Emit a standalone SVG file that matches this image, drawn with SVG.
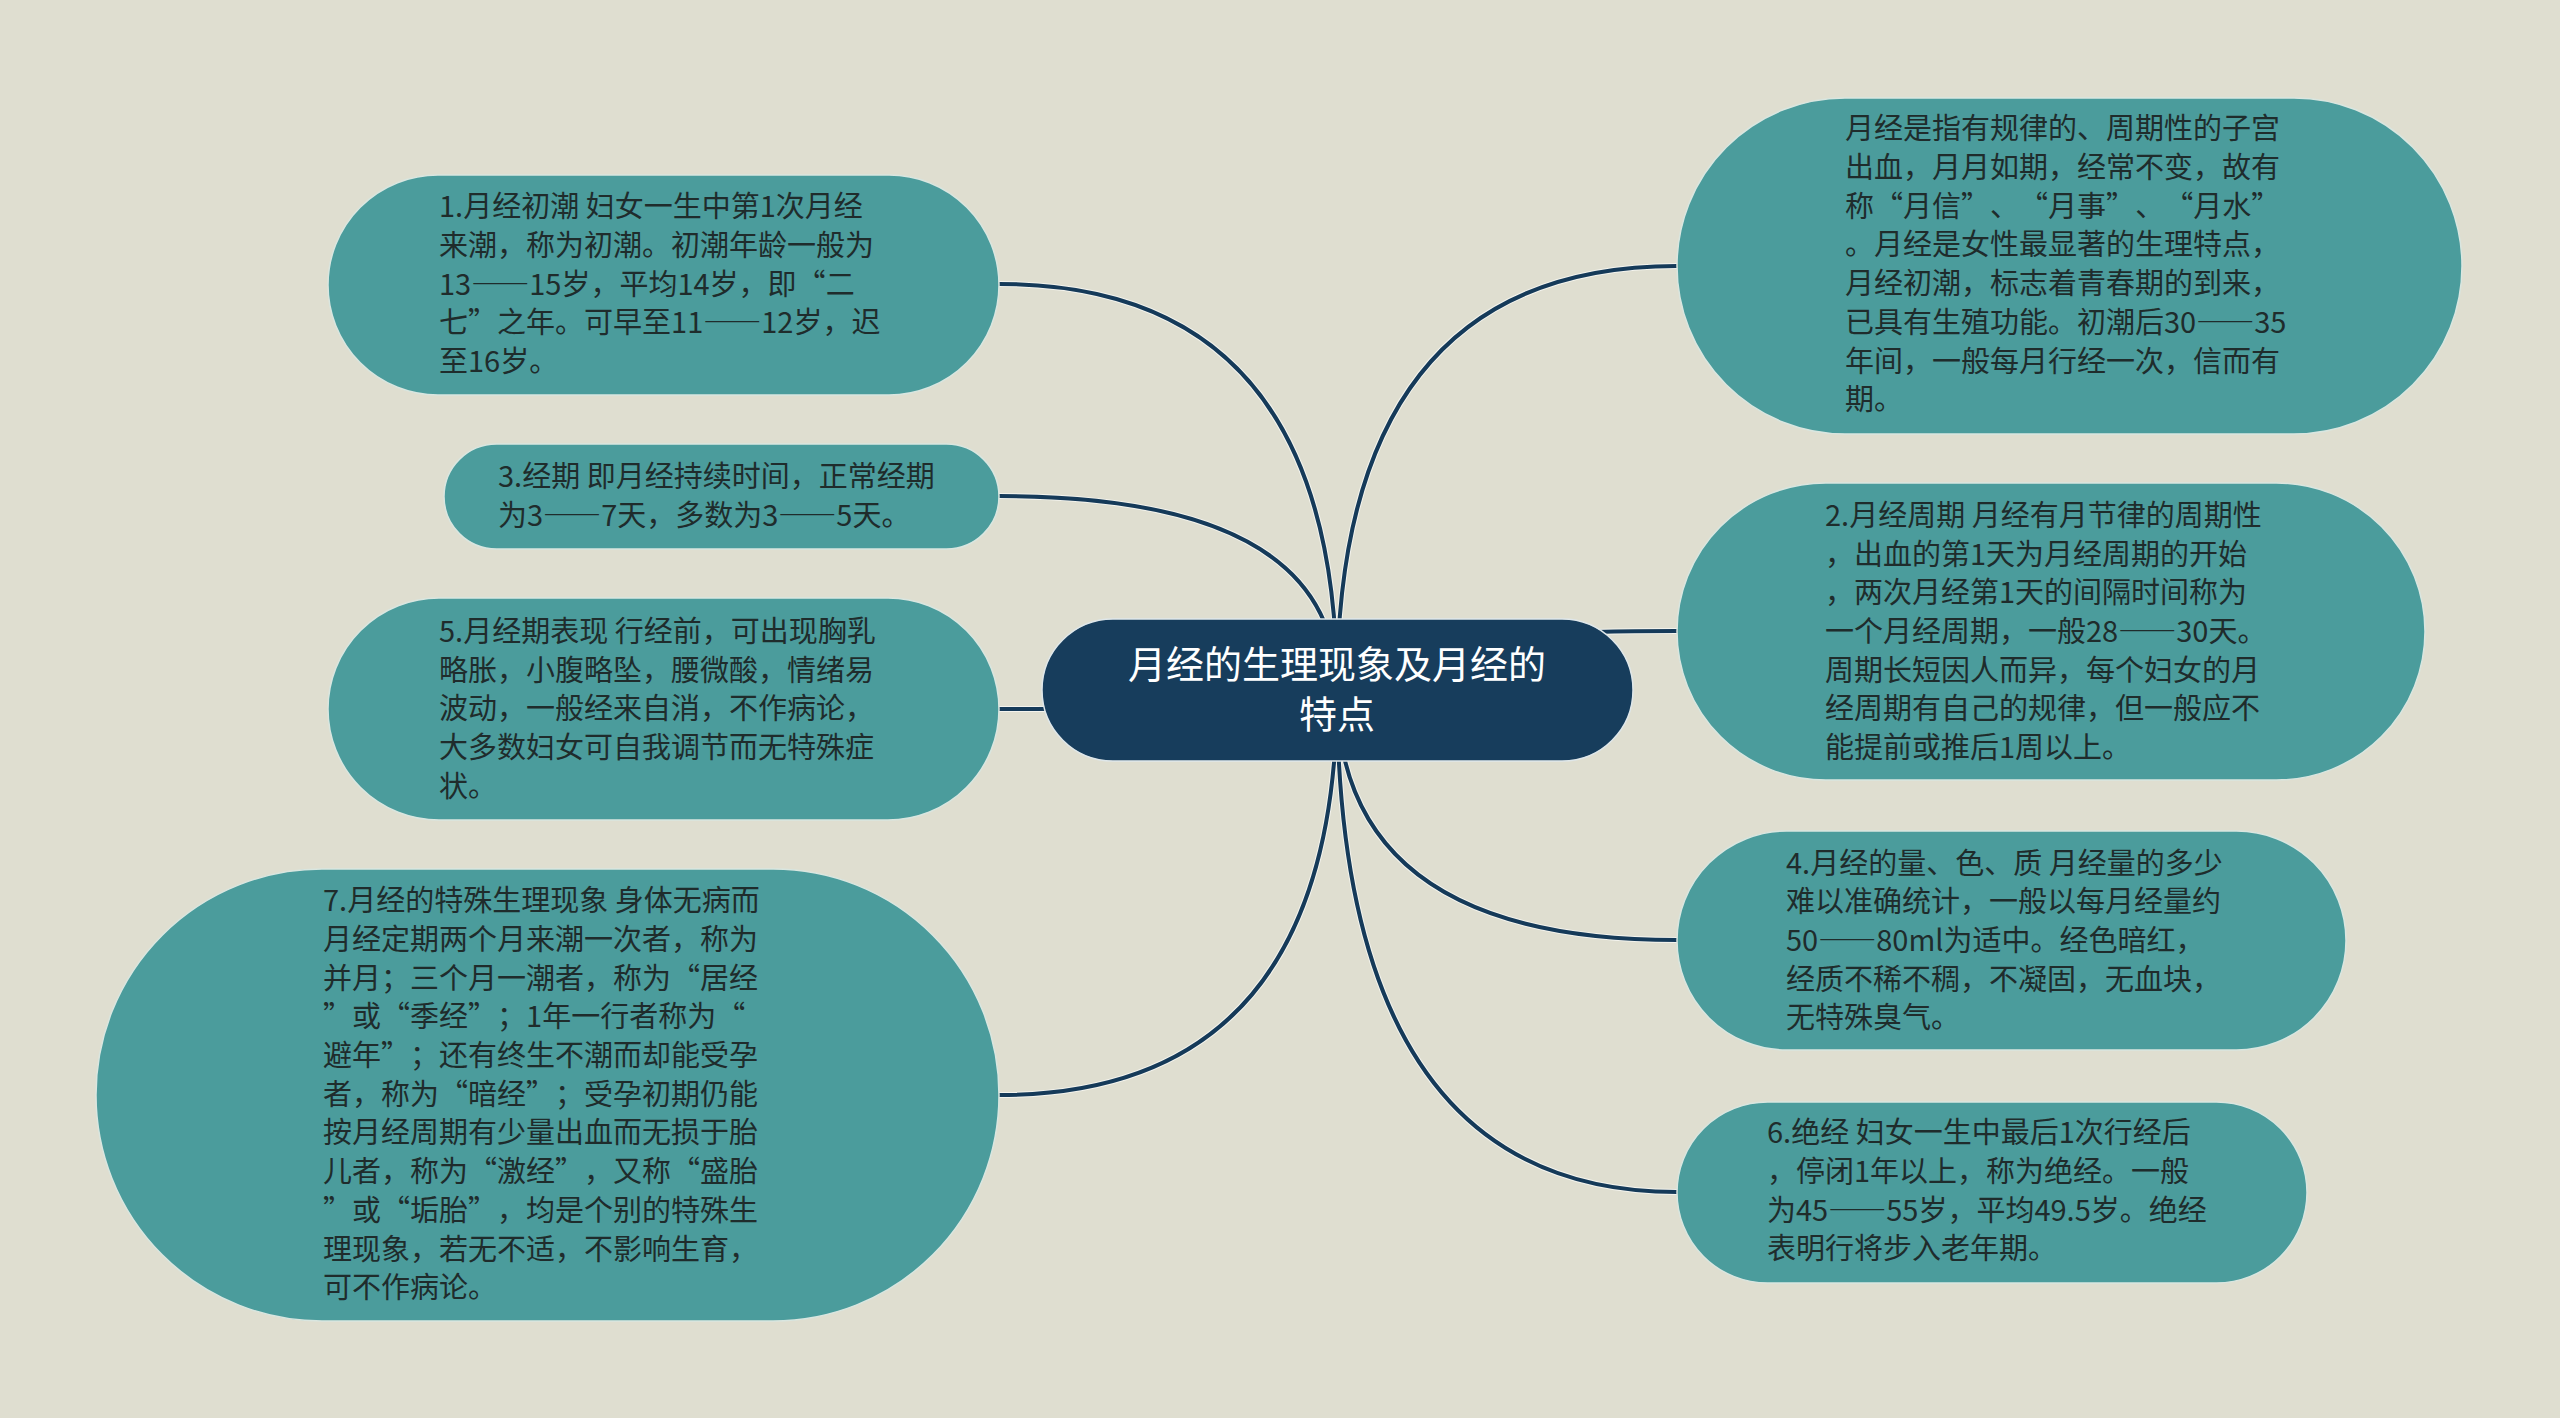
<svg xmlns="http://www.w3.org/2000/svg" width="2560" height="1418" viewBox="0 0 2560 1418">
<style>
.bg{fill:#dfded0}
.node{fill:#4b9c9c;stroke:#d9e6e0;stroke-width:1.5}
.root{fill:#173d5c;stroke:#dfe7ea;stroke-width:1.5}
.t{font-family:"Noto Sans CJK SC","Noto Sans",sans-serif;font-size:29px;fill:#1f2c2c;text-spacing-trim:space-all}
.rt{font-family:"Noto Sans CJK SC","Noto Sans",sans-serif;font-size:38px;fill:#ffffff;text-anchor:middle}
.f{font-feature-settings:"fwid" 1}
.halo{fill:none;stroke:#f4f4ee;stroke-width:6}
.edge{fill:none;stroke:#153a59;stroke-width:4}
</style>
<rect class="bg" x="0" y="0" width="2560" height="1418"/>
<g id="connectors">
<path class="halo" d="M1337 690 Q1337 284 999 284"/>
<path class="halo" d="M1337 690 Q1337 496 999 496"/>
<path class="halo" d="M1337 690 Q1337 709 999 709"/>
<path class="halo" d="M1337 690 Q1337 1095 999 1095"/>
<path class="halo" d="M1337 690 Q1337 266 1677 266"/>
<path class="halo" d="M1337 690 Q1337 631 1677 631"/>
<path class="halo" d="M1337 690 Q1337 940 1677 940"/>
<path class="halo" d="M1337 690 Q1337 1192 1677 1192"/>
<path class="edge" d="M1337 690 Q1337 284 999 284"/>
<path class="edge" d="M1337 690 Q1337 496 999 496"/>
<path class="edge" d="M1337 690 Q1337 709 999 709"/>
<path class="edge" d="M1337 690 Q1337 1095 999 1095"/>
<path class="edge" d="M1337 690 Q1337 266 1677 266"/>
<path class="edge" d="M1337 690 Q1337 631 1677 631"/>
<path class="edge" d="M1337 690 Q1337 940 1677 940"/>
<path class="edge" d="M1337 690 Q1337 1192 1677 1192"/>
</g>
<g id="root">
<rect class="root" x="1042" y="619" width="591" height="142" rx="71" ry="71"/>
<text class="rt"><tspan x="1337" y="678">月经的生理现象及月经的</tspan><tspan x="1337" y="728">特点</tspan></text>
</g>
<g id="node1">
<rect class="node" x="328" y="175" width="671" height="220" rx="110" ry="110"/>
<text class="t"><tspan x="439" y="217">1.月经初潮 妇女一生中第1次月经</tspan><tspan x="439" y="256">来潮，称为初潮。初潮年龄一般为</tspan><tspan x="439" y="295">13<tspan class="f">——</tspan>15岁，平均14岁，即<tspan class="f">“</tspan>二</tspan><tspan x="439" y="333">七<tspan class="f">”</tspan>之年。可早至11<tspan class="f">——</tspan>12岁，迟</tspan><tspan x="439" y="372">至16岁。</tspan></text>
</g>
<g id="node3">
<rect class="node" x="444" y="444" width="555" height="105" rx="52.5" ry="52.5"/>
<text class="t"><tspan x="498" y="487">3.经期 即月经持续时间，正常经期</tspan><tspan x="498" y="526">为3<tspan class="f">——</tspan>7天，多数为3<tspan class="f">——</tspan>5天。</tspan></text>
</g>
<g id="node5">
<rect class="node" x="328" y="598" width="671" height="222" rx="111" ry="111"/>
<text class="t"><tspan x="439" y="642">5.月经期表现 行经前，可出现胸乳</tspan><tspan x="439" y="681">略胀，小腹略坠，腰微酸，情绪易</tspan><tspan x="439" y="719">波动，一般经来自消，不作病论，</tspan><tspan x="439" y="758">大多数妇女可自我调节而无特殊症</tspan><tspan x="439" y="797">状。</tspan></text>
</g>
<g id="node7">
<rect class="node" x="96" y="869" width="903" height="452" rx="226" ry="226"/>
<text class="t"><tspan x="323" y="911">7.月经的特殊生理现象 身体无病而</tspan><tspan x="323" y="950">月经定期两个月来潮一次者，称为</tspan><tspan x="323" y="989">并月；三个月一潮者，称为<tspan class="f">“</tspan>居经</tspan><tspan x="323" y="1027"><tspan class="f">”</tspan>或<tspan class="f">“</tspan>季经<tspan class="f">”</tspan>；1年一行者称为<tspan class="f">“</tspan></tspan><tspan x="323" y="1066">避年<tspan class="f">”</tspan>；还有终生不潮而却能受孕</tspan><tspan x="323" y="1105">者，称为<tspan class="f">“</tspan>暗经<tspan class="f">”</tspan>；受孕初期仍能</tspan><tspan x="323" y="1143">按月经周期有少量出血而无损于胎</tspan><tspan x="323" y="1182">儿者，称为<tspan class="f">“</tspan>激经<tspan class="f">”</tspan>，又称<tspan class="f">“</tspan>盛胎</tspan><tspan x="323" y="1221"><tspan class="f">”</tspan>或<tspan class="f">“</tspan>垢胎<tspan class="f">”</tspan>，均是个别的特殊生</tspan><tspan x="323" y="1260">理现象，若无不适，不影响生育，</tspan><tspan x="323" y="1298">可不作病论。</tspan></text>
</g>
<g id="intro">
<rect class="node" x="1677" y="98" width="785" height="336" rx="168" ry="168"/>
<text class="t"><tspan x="1845" y="139">月经是指有规律的、周期性的子宫</tspan><tspan x="1845" y="178">出血，月月如期，经常不变，故有</tspan><tspan x="1845" y="217">称<tspan class="f">“</tspan>月信<tspan class="f">”</tspan>、<tspan class="f">“</tspan>月事<tspan class="f">”</tspan>、<tspan class="f">“</tspan>月水<tspan class="f">”</tspan></tspan><tspan x="1845" y="255">。月经是女性最显著的生理特点，</tspan><tspan x="1845" y="294">月经初潮，标志着青春期的到来，</tspan><tspan x="1845" y="333">已具有生殖功能。初潮后30<tspan class="f">——</tspan>35</tspan><tspan x="1845" y="372">年间，一般每月行经一次，信而有</tspan><tspan x="1845" y="410">期。</tspan></text>
</g>
<g id="node2">
<rect class="node" x="1677" y="483" width="748" height="297" rx="148.5" ry="148.5"/>
<text class="t"><tspan x="1825" y="526">2.月经周期 月经有月节律的周期性</tspan><tspan x="1825" y="565">，出血的第1天为月经周期的开始</tspan><tspan x="1825" y="603">，两次月经第1天的间隔时间称为</tspan><tspan x="1825" y="642">一个月经周期，一般28<tspan class="f">——</tspan>30天。</tspan><tspan x="1825" y="681">周期长短因人而异，每个妇女的月</tspan><tspan x="1825" y="719">经周期有自己的规律，但一般应不</tspan><tspan x="1825" y="758">能提前或推后1周以上。</tspan></text>
</g>
<g id="node4">
<rect class="node" x="1677" y="831" width="669" height="219" rx="109.5" ry="109.5"/>
<text class="t"><tspan x="1786" y="874">4.月经的量、色、质 月经量的多少</tspan><tspan x="1786" y="912">难以准确统计，一般以每月经量约</tspan><tspan x="1786" y="951">50<tspan class="f">——</tspan>80ml为适中。经色暗红，</tspan><tspan x="1786" y="990">经质不稀不稠，不凝固，无血块，</tspan><tspan x="1786" y="1028">无特殊臭气。</tspan></text>
</g>
<g id="node6">
<rect class="node" x="1677" y="1102" width="630" height="181" rx="90.5" ry="90.5"/>
<text class="t"><tspan x="1767" y="1143">6.绝经 妇女一生中最后1次行经后</tspan><tspan x="1767" y="1182">，停闭1年以上，称为绝经。一般</tspan><tspan x="1767" y="1221">为45<tspan class="f">——</tspan>55岁，平均49.5岁。绝经</tspan><tspan x="1767" y="1259">表明行将步入老年期。</tspan></text>
</g>
</svg>
